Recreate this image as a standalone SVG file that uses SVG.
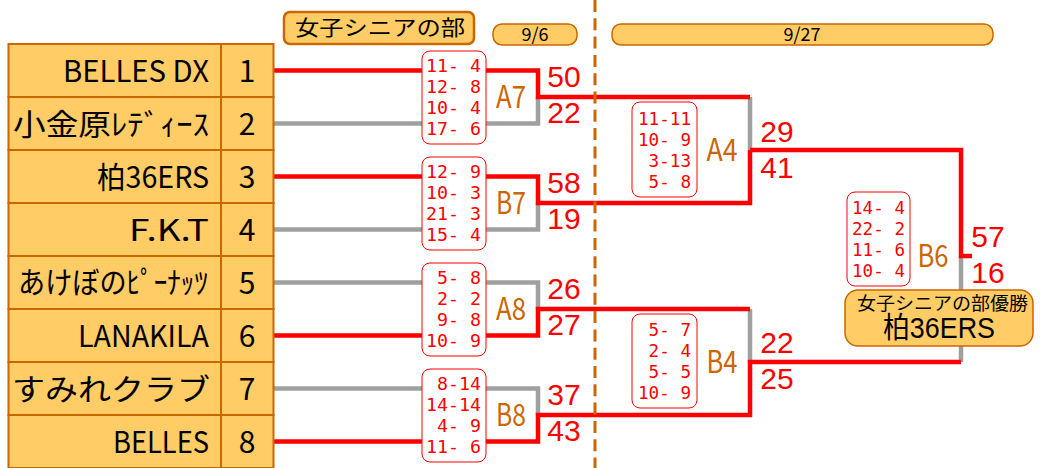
<svg xmlns="http://www.w3.org/2000/svg" width="1043" height="468" viewBox="0 0 1043 468">
<style>
.cell{fill:#FFCC66;stroke:#CC6600;stroke-width:2}
.jp{font-family:"Noto Sans CJK JP","Noto Sans",sans-serif;fill:#000}
.tn{font-size:30px;text-anchor:start}
.no{font-size:30px;text-anchor:middle}
.sb{fill:#fff;stroke:#FF0000;stroke-width:1}
.sl{font-family:"DejaVu Sans Mono",monospace;font-size:18.5px;fill:#FF0000;white-space:pre}
.lab{font-family:"Noto Sans CJK JP","Noto Sans",sans-serif;font-size:31px;fill:#CC6600;text-anchor:middle}
.pt{font-family:"Liberation Sans",Arial,sans-serif;font-size:30px;fill:#FF0000;text-anchor:middle}
.win{fill:none;stroke:#FF0000;stroke-width:4.5}
.lose{fill:none;stroke:#A0A0A0;stroke-width:4.5}
.hdr{fill:#FFCC66;stroke:#CC6600}
</style>

<g id="connectors">
  <path class="lose" d="M273,123.5 H538 V97"/>
  <path class="lose" d="M273,229.5 H538 V203"/>
  <path class="lose" d="M273,282.5 H538 V309"/>
  <path class="lose" d="M273,388.5 H538 V415"/>
  <path class="lose" d="M750,97 V150"/>
  <path class="lose" d="M750,309 V362"/>
  <path class="lose" d="M961,362 V256"/>
  <path class="win" d="M273,70.5 H538 V97 H750"/>
  <path class="win" d="M273,176.5 H538 V203 H750 V150"/>
  <path class="win" d="M273,335.5 H538 V309 H750"/>
  <path class="win" d="M273,441.5 H538 V415 H750 V362 H961"/>
  <path class="win" d="M750,150 H961 V256 H972"/>
  <line x1="595" y1="0" x2="595" y2="468" stroke="#CC6600" stroke-width="3" stroke-dasharray="12 6.3"/>
</g>

<g id="header-title">
  <rect class="hdr" x="284" y="12" width="190" height="32" rx="6" stroke-width="2.5"/>
  <text class="jp" x="295" y="35" font-size="21" textLength="170" lengthAdjust="spacingAndGlyphs">女子シニアの部</text>
</g>
<g id="header-96">
  <rect class="hdr" x="493" y="24" width="84" height="21" rx="9" stroke-width="1.5"/>
  <text class="jp" x="535" y="41" font-size="18" text-anchor="middle">9/6</text>
</g>
<g id="header-927">
  <rect class="hdr" x="612" y="24" width="381" height="21" rx="9" stroke-width="1.5"/>
  <text class="jp" x="802" y="41" font-size="18" text-anchor="middle">9/27</text>
</g>

<g id="team1">
  <rect class="cell" x="8.5" y="44" width="212.5" height="53"/><rect class="cell" x="221" y="44" width="52.5" height="53"/>
  <text class="jp tn" x="63" y="82" textLength="146" lengthAdjust="spacingAndGlyphs">BELLES DX</text>
  <text class="jp no" x="247" y="82">1</text>
</g>
<g id="team2">
  <rect class="cell" x="8.5" y="97" width="212.5" height="53"/><rect class="cell" x="221" y="97" width="52.5" height="53"/>
  <text class="jp tn" x="13" y="135" textLength="196" lengthAdjust="spacingAndGlyphs">小金原ﾚﾃﾞｨｰｽ</text>
  <text class="jp no" x="247" y="135">2</text>
</g>
<g id="team3">
  <rect class="cell" x="8.5" y="150" width="212.5" height="53"/><rect class="cell" x="221" y="150" width="52.5" height="53"/>
  <text class="jp tn" x="97" y="188" textLength="112" lengthAdjust="spacingAndGlyphs">柏36ERS</text>
  <text class="jp no" x="247" y="188">3</text>
</g>
<g id="team4">
  <rect class="cell" x="8.5" y="203" width="212.5" height="53"/><rect class="cell" x="221" y="203" width="52.5" height="53"/>
  <text class="jp tn" x="129" y="241" textLength="80" lengthAdjust="spacingAndGlyphs">F.K.T</text>
  <text class="jp no" x="247" y="241">4</text>
</g>
<g id="team5">
  <rect class="cell" x="8.5" y="256" width="212.5" height="53"/><rect class="cell" x="221" y="256" width="52.5" height="53"/>
  <text class="jp tn" x="18" y="293" font-size="26" textLength="190" lengthAdjust="spacingAndGlyphs">あけぼのﾋﾟｰﾅｯﾂ</text>
  <text class="jp no" x="247" y="294">5</text>
</g>
<g id="team6">
  <rect class="cell" x="8.5" y="309" width="212.5" height="53"/><rect class="cell" x="221" y="309" width="52.5" height="53"/>
  <text class="jp tn" x="78" y="347" textLength="131" lengthAdjust="spacingAndGlyphs">LANAKILA</text>
  <text class="jp no" x="247" y="347">6</text>
</g>
<g id="team7">
  <rect class="cell" x="8.5" y="362" width="212.5" height="53"/><rect class="cell" x="221" y="362" width="52.5" height="53"/>
  <text class="jp tn" x="12" y="400" textLength="198" lengthAdjust="spacingAndGlyphs">すみれクラブ</text>
  <text class="jp no" x="247" y="400">7</text>
</g>
<g id="team8">
  <rect class="cell" x="8.5" y="415" width="212.5" height="53"/><rect class="cell" x="221" y="415" width="52.5" height="53"/>
  <text class="jp tn" x="113" y="453" textLength="96" lengthAdjust="spacingAndGlyphs">BELLES</text>
  <text class="jp no" x="247" y="453">8</text>
</g>

<g id="match-A7" xml:space="preserve">
  <rect class="sb" x="422" y="51" width="64" height="93" rx="8"/>
  <text class="sl" x="426" y="72" textLength="55" lengthAdjust="spacingAndGlyphs">11- 4</text>
  <text class="sl" x="426" y="93" textLength="55" lengthAdjust="spacingAndGlyphs">12- 8</text>
  <text class="sl" x="426" y="114" textLength="55" lengthAdjust="spacingAndGlyphs">10- 4</text>
  <text class="sl" x="426" y="135" textLength="55" lengthAdjust="spacingAndGlyphs">17- 6</text>
  <text class="lab" x="511" y="108" textLength="30" lengthAdjust="spacingAndGlyphs">A7</text>
  <text class="pt" x="564" y="87">50</text>
  <text class="pt" x="564" y="123">22</text>
</g>
<g id="match-B7" xml:space="preserve">
  <rect class="sb" x="422" y="157" width="64" height="93" rx="8"/>
  <text class="sl" x="426" y="178" textLength="55" lengthAdjust="spacingAndGlyphs">12- 9</text>
  <text class="sl" x="426" y="199" textLength="55" lengthAdjust="spacingAndGlyphs">10- 3</text>
  <text class="sl" x="426" y="220" textLength="55" lengthAdjust="spacingAndGlyphs">21- 3</text>
  <text class="sl" x="426" y="241" textLength="55" lengthAdjust="spacingAndGlyphs">15- 4</text>
  <text class="lab" x="511" y="214" textLength="30" lengthAdjust="spacingAndGlyphs">B7</text>
  <text class="pt" x="564" y="193">58</text>
  <text class="pt" x="564" y="229">19</text>
</g>
<g id="match-A8" xml:space="preserve">
  <rect class="sb" x="422" y="263" width="64" height="93" rx="8"/>
  <text class="sl" x="426" y="284" textLength="55" lengthAdjust="spacingAndGlyphs"> 5- 8</text>
  <text class="sl" x="426" y="305" textLength="55" lengthAdjust="spacingAndGlyphs"> 2- 2</text>
  <text class="sl" x="426" y="326" textLength="55" lengthAdjust="spacingAndGlyphs"> 9- 8</text>
  <text class="sl" x="426" y="347" textLength="55" lengthAdjust="spacingAndGlyphs">10- 9</text>
  <text class="lab" x="511" y="320" textLength="30" lengthAdjust="spacingAndGlyphs">A8</text>
  <text class="pt" x="564" y="299">26</text>
  <text class="pt" x="564" y="335">27</text>
</g>
<g id="match-B8" xml:space="preserve">
  <rect class="sb" x="422" y="369" width="64" height="93" rx="8"/>
  <text class="sl" x="426" y="390" textLength="55" lengthAdjust="spacingAndGlyphs"> 8-14</text>
  <text class="sl" x="426" y="411" textLength="55" lengthAdjust="spacingAndGlyphs">14-14</text>
  <text class="sl" x="426" y="432" textLength="55" lengthAdjust="spacingAndGlyphs"> 4- 9</text>
  <text class="sl" x="426" y="453" textLength="55" lengthAdjust="spacingAndGlyphs">11- 6</text>
  <text class="lab" x="511" y="426" textLength="30" lengthAdjust="spacingAndGlyphs">B8</text>
  <text class="pt" x="564" y="405">37</text>
  <text class="pt" x="564" y="441">43</text>
</g>
<g id="match-A4" xml:space="preserve">
  <rect class="sb" x="632" y="102" width="65" height="95" rx="8"/>
  <text class="sl" x="638" y="125" textLength="53" lengthAdjust="spacingAndGlyphs">11-11</text>
  <text class="sl" x="638" y="146" textLength="53" lengthAdjust="spacingAndGlyphs">10- 9</text>
  <text class="sl" x="638" y="167" textLength="53" lengthAdjust="spacingAndGlyphs"> 3-13</text>
  <text class="sl" x="638" y="188" textLength="53" lengthAdjust="spacingAndGlyphs"> 5- 8</text>
  <text class="lab" x="722" y="161" textLength="31" lengthAdjust="spacingAndGlyphs">A4</text>
  <text class="pt" x="777" y="142">29</text>
  <text class="pt" x="777" y="178">41</text>
</g>
<g id="match-B4" xml:space="preserve">
  <rect class="sb" x="632" y="314" width="65" height="94" rx="8"/>
  <text class="sl" x="638" y="336" textLength="53" lengthAdjust="spacingAndGlyphs"> 5- 7</text>
  <text class="sl" x="638" y="357" textLength="53" lengthAdjust="spacingAndGlyphs"> 2- 4</text>
  <text class="sl" x="638" y="378" textLength="53" lengthAdjust="spacingAndGlyphs"> 5- 5</text>
  <text class="sl" x="638" y="399" textLength="53" lengthAdjust="spacingAndGlyphs">10- 9</text>
  <text class="lab" x="722" y="373" textLength="31" lengthAdjust="spacingAndGlyphs">B4</text>
  <text class="pt" x="777" y="353">22</text>
  <text class="pt" x="777" y="389">25</text>
</g>
<g id="match-B6" xml:space="preserve">
  <rect class="sb" x="847" y="192" width="63" height="94" rx="8"/>
  <text class="sl" x="852" y="214" textLength="53" lengthAdjust="spacingAndGlyphs">14- 4</text>
  <text class="sl" x="852" y="235" textLength="53" lengthAdjust="spacingAndGlyphs">22- 2</text>
  <text class="sl" x="852" y="256" textLength="53" lengthAdjust="spacingAndGlyphs">11- 6</text>
  <text class="sl" x="852" y="277" textLength="53" lengthAdjust="spacingAndGlyphs">10- 4</text>
  <text class="lab" x="933" y="267" textLength="31" lengthAdjust="spacingAndGlyphs">B6</text>
  <text class="pt" x="988" y="247">57</text>
  <text class="pt" x="988" y="283">16</text>
</g>

<g id="champion">
  <rect class="hdr" x="845" y="290" width="188" height="56" rx="13" stroke-width="1.5"/>
  <text class="jp" x="857" y="310" font-size="18" textLength="171" lengthAdjust="spacingAndGlyphs">女子シニアの部優勝</text>
  <text x="883" y="338" font-family="'Liberation Sans','Noto Sans CJK JP',sans-serif" font-size="29" textLength="112" lengthAdjust="spacingAndGlyphs">柏36ERS</text>
</g>
</svg>
